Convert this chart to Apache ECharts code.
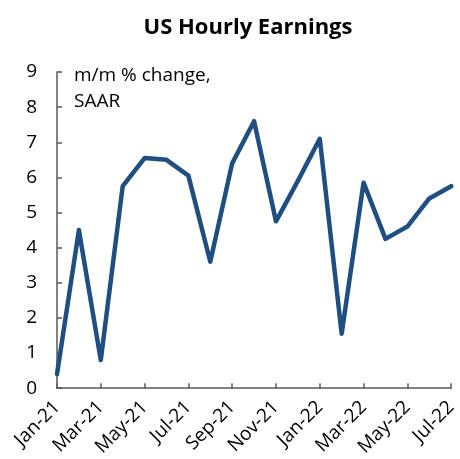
<!DOCTYPE html>
<html>
<head>
<meta charset="utf-8">
<script src="https://cdn.jsdelivr.net/npm/echarts@6/dist/echarts.min.js"></script>
<style>
  html, body { margin: 0; padding: 0; background: #fff; }
  #chart { width: 460px; height: 459px; }
</style>
</head>
<body>
<div id="chart"></div>
<script>
// 月份标签（Jan-21 至 Jul-22）
var months = ['Jan-21', 'Feb-21', 'Mar-21', 'Apr-21', 'May-21', 'Jun-21', 'Jul-21', 'Aug-21',
    'Sep-21', 'Oct-21', 'Nov-21', 'Dec-21', 'Jan-22', 'Feb-22', 'Mar-22', 'Apr-22',
    'May-22', 'Jun-22', 'Jul-22'];

// 时薪环比年化变化 %
var earnings = [0.4, 4.5, 0.8, 5.75, 6.55, 6.5, 6.05, 3.6,
    6.4, 7.6, 4.75, 5.9, 7.1, 1.55, 5.85, 4.25,
    4.6, 5.4, 5.75];

var yTicks = [0, 1, 2, 3, 4, 5, 6, 7, 8, 9];

var font = '"Open Sans", "Noto Sans", sans-serif';
var axisGrey = '#595959';

var option = {
    animation: false,
    title: {
        text: 'US Hourly Earnings',
        left: 243,
        top: 12,
        textAlign: 'center',
        textStyle: {
            fontFamily: font,
            fontSize: 22,
            fontWeight: 'bold',
            color: '#000'
        }
    },
    graphic: [
        {
            type: 'text',
            left: 74,
            top: 63,
            style: {
                text: 'm/m % change,\nSAAR',
                font: '19px ' + font,
                lineHeight: 26,
                fill: '#000'
            }
        }
    ],
    grid: {
        left: 57,
        right: 6,
        top: 72,
        bottom: 69,
        containLabel: false
    },
    xAxis: {
        type: 'category',
        data: months,
        boundaryGap: false,
        axisLine: { show: true, lineStyle: { color: axisGrey, width: 1.5 } },
        axisTick: { show: true, inside: true, length: 5, interval: 1, lineStyle: { color: axisGrey, width: 1.5 } },
        axisLabel: {
            interval: 1,
            rotate: 45,
            margin: 16,
            fontFamily: font,
            fontSize: 19,
            color: '#000'
        },
        splitLine: { show: false }
    },
    yAxis: {
        type: 'value',
        min: yTicks[0],
        max: yTicks[yTicks.length - 1],
        interval: 1,
        axisLine: { show: true, lineStyle: { color: axisGrey, width: 1.5 } },
        axisTick: { show: true, inside: true, length: 5, lineStyle: { color: axisGrey, width: 1.5 } },
        axisLabel: {
            margin: 20,
            fontFamily: font,
            fontSize: 19,
            color: '#000'
        },
        splitLine: { show: false }
    },
    series: [
        {
            type: 'line',
            data: earnings,
            symbol: 'none',
            lineStyle: { color: '#1F4E80', width: 4.5, join: 'round', cap: 'round' }
        }
    ]
};

var myChart = echarts.init(document.getElementById('chart'));
myChart.setOption(option, true);
</script>
</body>
</html>
